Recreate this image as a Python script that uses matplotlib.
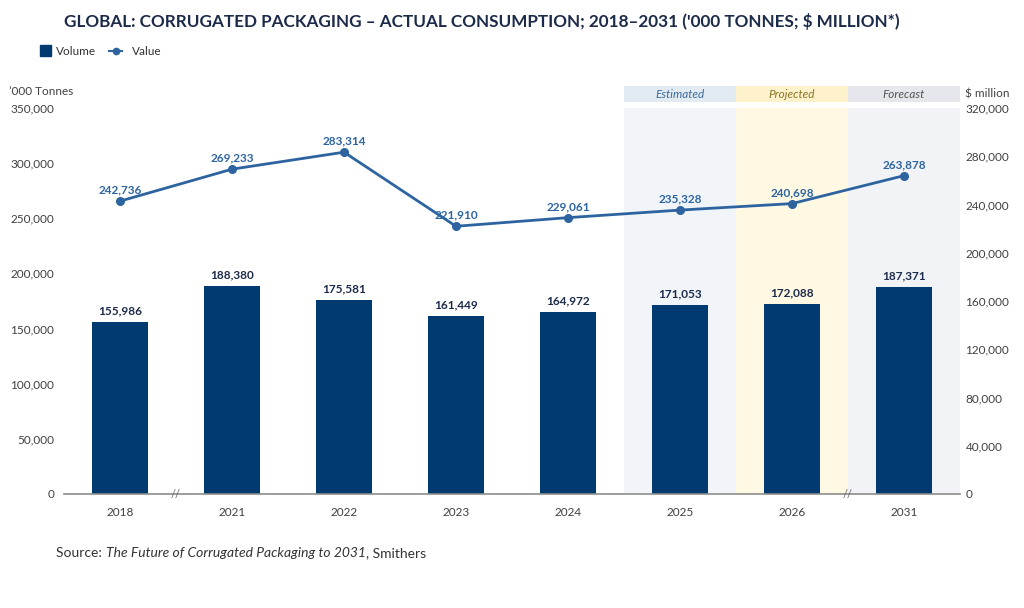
import matplotlib.pyplot as plt
import numpy as np

plt.rcParams['font.family'] = ['Lato', 'DejaVu Sans']

years = ['2018', '2021', '2022', '2023', '2024', '2025', '2026', '2031']
volume = [155986, 188380, 175581, 161449, 164972, 171053, 172088, 187371]
value = [242736, 269233, 283314, 221910, 229061, 235328, 240698, 263878]
phases = ['Estimated', 'Projected', 'Forecast']

bar_col = '#003a70'
line_col = '#2d64a0'
navy = '#1c2b49'
tick_col = '#404040'
phase_bg = ['#f1f5f9', '#fff8e3', '#f2f3f6']
phase_head = ['#e2eaf2', '#fdf2cc', '#e6e7ec']
phase_txt = ['#3d6b99', '#8a7424', '#555555']

fig = plt.figure(figsize=(10.24, 6.08), dpi=100)
ax = fig.add_axes([0.0625, 0.1875, 0.875, 0.635])
ax2 = ax.twinx()

x = np.arange(len(years))

# zones in the background
for i, ph in enumerate(phases):
    x0 = 4.5 + i
    ax.axvspan(x0, x0 + 1, color=phase_bg[i], zorder=0, lw=0)

ax.bar(x, volume, width=0.5, color=bar_col, zorder=2)
for xi, v in zip(x, volume):
    ax.annotate(f'{v:,}', (xi, v), xytext=(0, 4), textcoords='offset points',
                ha='center', va='bottom', fontsize=8.5, fontweight='bold', color=navy)

ax2.plot(x, value, color=line_col, lw=2, marker='o', ms=5.5, zorder=3)
for xi, v in zip(x, value):
    ax2.annotate(f'{v:,}', (xi, v), xytext=(0, 4), textcoords='offset points',
                 ha='center', va='bottom', fontsize=8.5, fontweight='bold', color=line_col)

ax.set_xlim(-0.5, 7.5)
ax.set_ylim(0, 350000)
ax2.set_ylim(0, 320000)
ax.set_yticks(np.arange(0, 350001, 50000))
ax2.set_yticks(np.arange(0, 320001, 40000))
fmt = plt.FuncFormatter(lambda v, p: f'{int(v):,}')
ax.yaxis.set_major_formatter(fmt)
ax2.yaxis.set_major_formatter(fmt)
ax.set_xticks(x)
ax.set_xticklabels(years)

for a in (ax, ax2):
    for s in ['top', 'left', 'right', 'bottom']:
        a.spines[s].set_visible(False)
    a.tick_params(axis='both', length=0, labelsize=8.5, labelcolor=tick_col)
ax.spines['bottom'].set_visible(True)
ax.spines['bottom'].set_color('#8c8c8c')
ax.spines['bottom'].set_linewidth(1.2)
ax.spines['bottom'].set_zorder(4)
ax.tick_params(axis='x', pad=9)
ax.tick_params(axis='y', pad=7)
ax2.tick_params(axis='y', pad=4)

# axis break marks
for xb in (0.5, 6.5):
    ax.text(xb, 0, '//', ha='center', va='center', fontsize=8, color='#666666',
            zorder=5)

# header boxes for the zones
trans = ax.get_xaxis_transform()
for i, ph in enumerate(phases):
    x0 = 4.5 + i
    ax.add_patch(plt.Rectangle((x0, 1.0155), 1, 0.0415, transform=trans,
                               color=phase_head[i], clip_on=False, lw=0))
    ax.text(x0 + 0.5, 1.036, ph, transform=trans, ha='center',
            va='center', fontsize=8.5, style='italic', color=phase_txt[i])

title = fig.text(0.0625, 0.964,
                 "GLOBAL: CORRUGATED PACKAGING \u2013 ACTUAL CONSUMPTION; 2018\u20132031 ('000 TONNES; $ MILLION*)",
                 fontsize=14, fontweight='bold', color=navy, va='center')
fig.canvas.draw()
r = fig.canvas.get_renderer()
tw = title.get_window_extent(r).width
title.set_fontsize(14 * 841 / tw)

# legend
fig.patches.append(plt.Rectangle((0.039, 0.908), 0.0105, 0.018, transform=fig.transFigure,
                                 color=bar_col, figure=fig))
fig.text(0.055, 0.916, 'Volume', fontsize=8.5, color='#333333', va='center')
fig.lines.append(plt.Line2D([0.1065, 0.1195], [0.916, 0.916], transform=fig.transFigure,
                            color=line_col, lw=1.5, figure=fig))
fig.lines.append(plt.Line2D([0.113], [0.916], transform=fig.transFigure, ls='none',
                            color=line_col, marker='o', ms=4.5, figure=fig))
fig.text(0.129, 0.916, 'Value', fontsize=8.5, color='#333333', va='center')

fig.text(0.009, 0.849, "\u2019000 Tonnes", fontsize=8.5, color=tick_col, va='center')
fig.text(0.942, 0.845, "$ million", fontsize=8.5, color=tick_col, va='center')

# source line: regular, italic title, regular
sy = 0.09
t1 = fig.text(0.055, sy, 'Source: ', fontsize=10, color='#333333', va='center')
w1 = t1.get_window_extent(r).width / fig.bbox.width
t2 = fig.text(0.055 + w1, sy, 'The Future of Corrugated Packaging to 2031', fontsize=10,
              style='italic', color='#333333', va='center')
w2 = t2.get_window_extent(r).width / fig.bbox.width
fig.text(0.055 + w1 + w2, sy, ', Smithers', fontsize=10, color='#333333', va='center')

fig.savefig('out.png', dpi=100)
